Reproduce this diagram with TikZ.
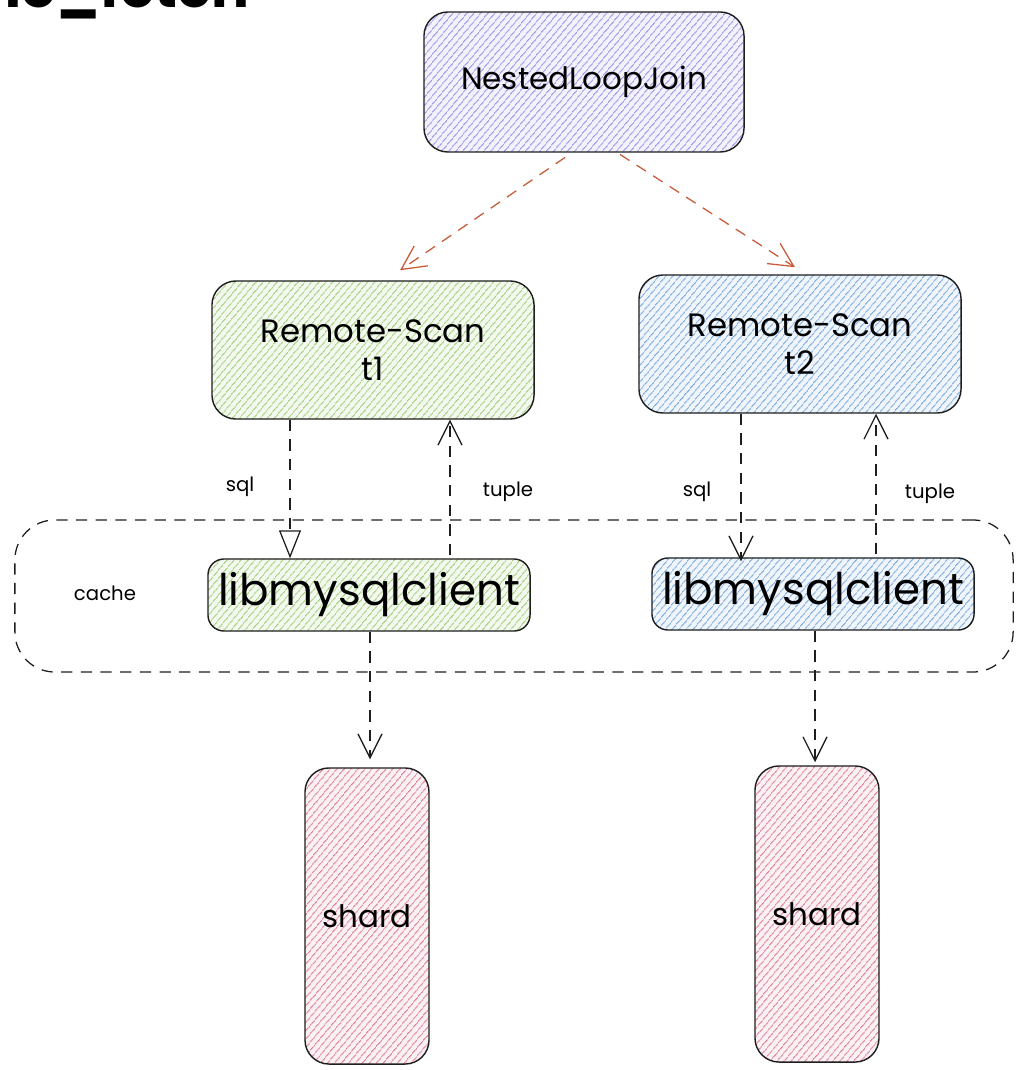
\documentclass[tikz,border=0pt]{standalone}
\usepackage{fontspec}
\setmainfont{Poppins}
\usetikzlibrary{%
    arrows.meta,
    calc,
    patterns.meta,
    positioning
}
\definecolor{ink}{RGB}{30,30,30}
\definecolor{joincol}{RGB}{100,88,215}
\definecolor{scanone}{RGB}{115,180,55}
\definecolor{scantwo}{RGB}{55,125,200}
\definecolor{shardcol}{RGB}{200,65,100}
\definecolor{callcol}{RGB}{200,90,55}

\begin{document}
\begin{tikzpicture}[
      x=0.025cm, y=-0.025cm,
      elem/.style={rectangle, draw=ink, line width=1pt, align=center,
                   rounded corners=0.6cm},
      hatch/.style={preaction={fill=#1!8},
                    pattern={Lines[angle=50,distance=4pt,line width=0.6pt]},
                    pattern color=#1},
      scan/.style={elem, minimum width=8.05cm, minimum height=3.45cm,
                   font=\fontsize{23}{27}\selectfont},
      client/.style={elem, rounded corners=0.4cm, minimum width=8.05cm,
                     minimum height=1.8cm, font=\fontsize{31}{34}\selectfont},
      store/.style={elem, minimum width=3.1cm, minimum height=7.4cm,
                    font=\fontsize{22}{26}\selectfont},
      tag/.style={font=\fontsize{14}{16}\selectfont},
      flow/.style={draw=ink, line width=0.9pt, dash pattern=on 8pt off 6pt,
                   -{Straight Barb[length=6mm,width=6mm]}},
      call/.style={flow, draw=callcol}
    ]
      \clip (0,0) rectangle (1015,1070);

      % cut-off heading
      \node[anchor=base east, inner sep=0pt,
            font=\fontsize{40}{44}\selectfont\bfseries]
        (heading) at (250,8) {cache\_fetch};

      \node[elem, hatch=joincol, minimum width=8cm, minimum height=3.5cm,
            font=\fontsize{22}{26}\selectfont]
        (nlj) at (584,82) {NestedLoopJoin};

      \node[scan, hatch=scanone] (rs_t1) at (373,350) {Remote-Scan\\t1};
      \node[scan, hatch=scantwo] (rs_t2) at (800,344) {Remote-Scan\\t2};

      \node[elem, dashed, dash pattern=on 8pt off 6pt, line width=0.9pt,
            rounded corners=1cm, minimum width=24.95cm, minimum height=3.8cm]
        (cache_box) at (514,596) {};
      \node[tag] (cache_lbl) at (105,593) {cache};

      \node[client, hatch=scanone] (lib_t1) at (369,595) {libmysqlclient};
      \node[client, hatch=scantwo] (lib_t2) at (813,594) {libmysqlclient};

      \node[store, hatch=shardcol] (shard_t1) at (367,916) {shard};
      \node[store, hatch=shardcol] (shard_t2) at (817,914) {shard};

      \draw[call] ($(nlj.south)+(-19,5)$) -- ($(rs_t1.north)+(27,-10)$);
      \draw[call] ($(nlj.south)+(36,2)$) -- ($(rs_t2.north)+(-5,-7)$);

      \draw[flow, -{Triangle[open,length=7mm,width=5.5mm]}]
        ($(rs_t1.south)+(-83,0)$) -- ($(lib_t1.north)+(-79,0)$);
      \draw[flow] ($(lib_t1.north)+(81,-3)$) -- ($(rs_t1.south)+(77,0)$);
      \draw[flow] ($(rs_t2.south)+(-59,0)$) -- ($(lib_t2.north)+(-72,4)$);
      \draw[flow] ($(lib_t2.north)+(63,-3)$) -- ($(rs_t2.south)+(76,0)$);

      \draw[flow] ($(lib_t1.south)+(1,0)$) -- ($(shard_t1.north)+(3,-8)$);
      \draw[flow] ($(lib_t2.south)+(2,0)$) -- ($(shard_t2.north)+(-2,-3)$);

      \node[tag] (sql_t1) at (240,487) {sql};
      \node[tag] (tuple_t1) at (508,492) {tuple};
      \node[tag] (sql_t2) at (697,492) {sql};
      \node[tag] (tuple_t2) at (930,494) {tuple};
    \end{tikzpicture}
\end{document}
